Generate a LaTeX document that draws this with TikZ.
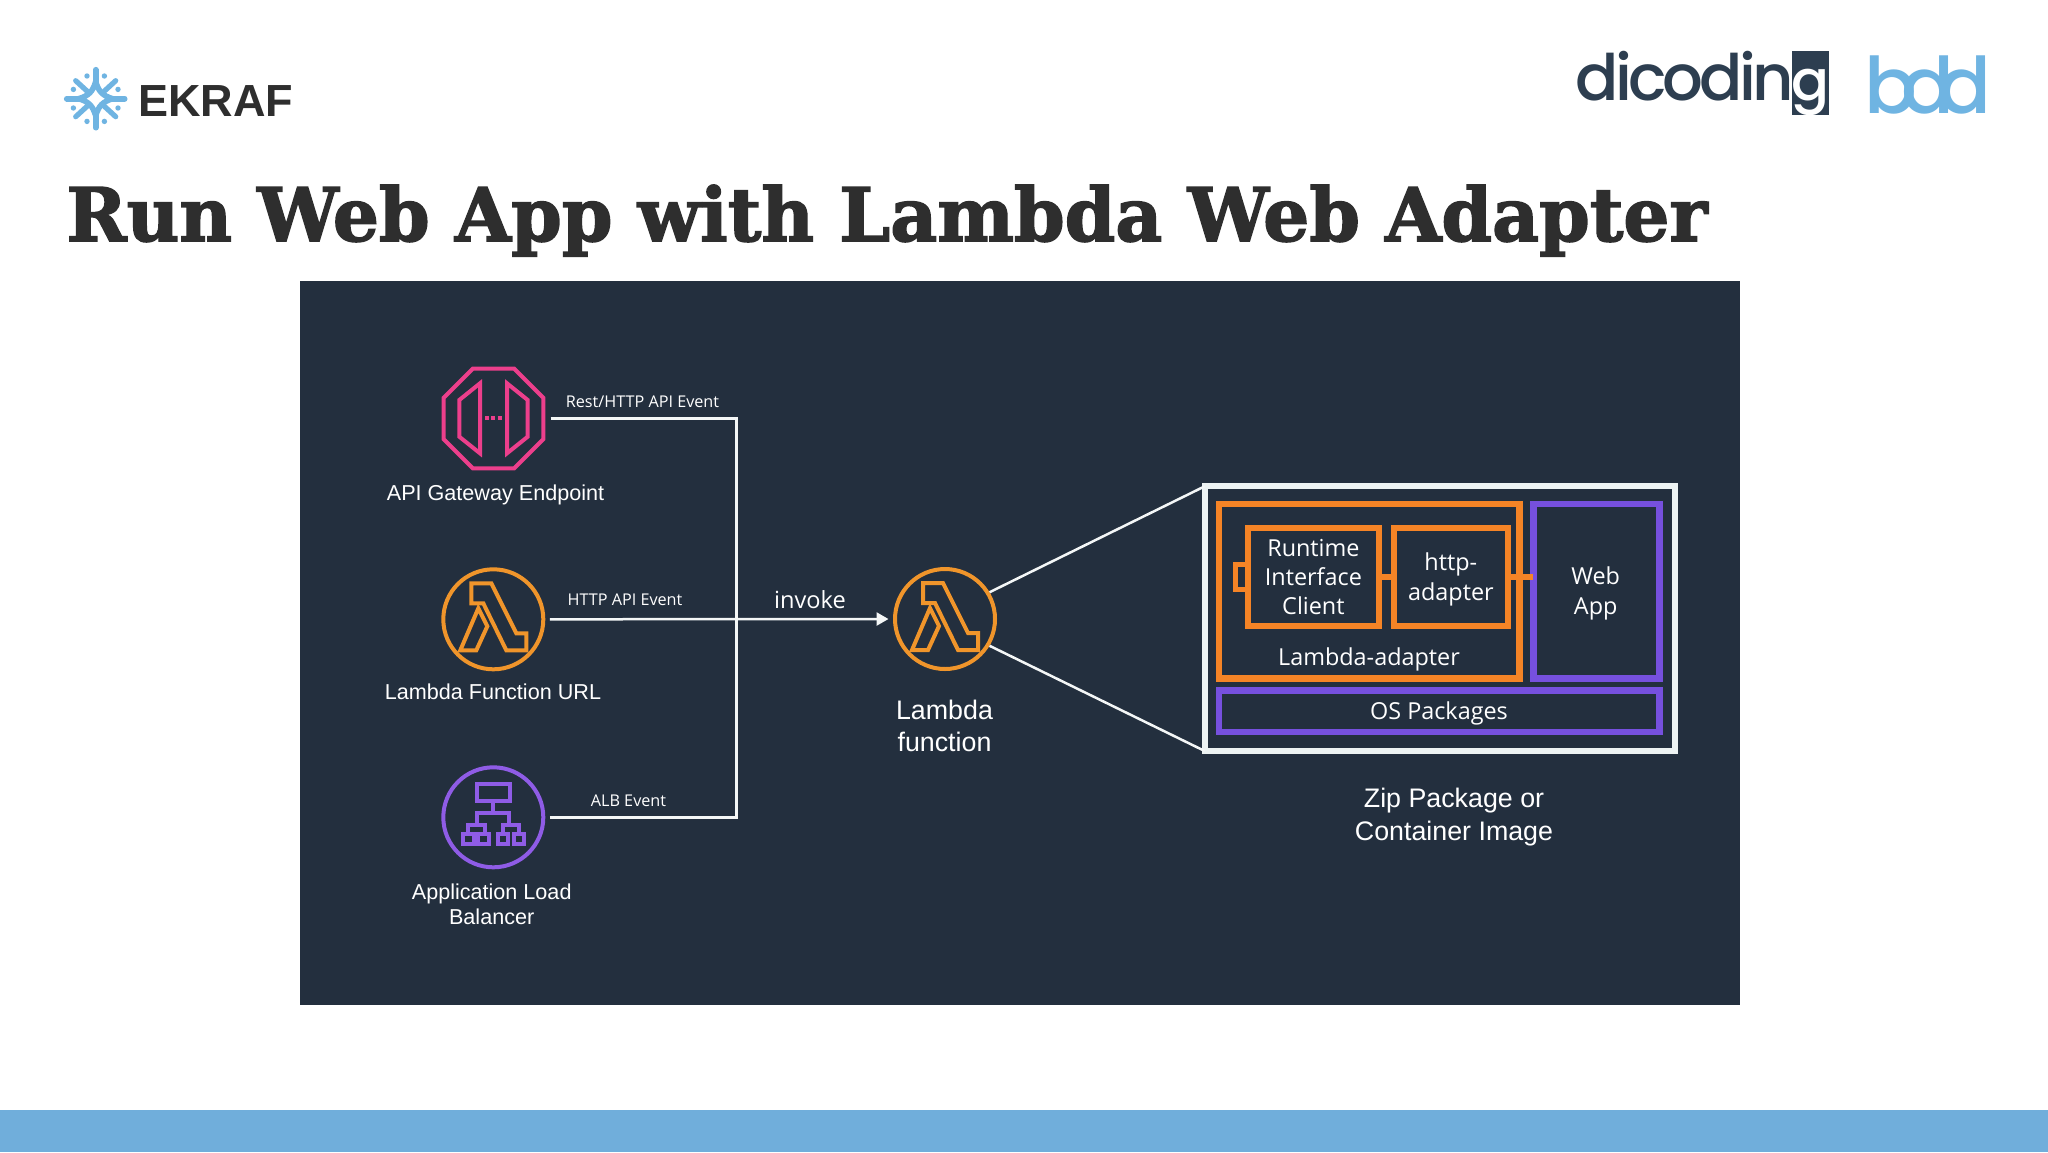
\documentclass[tikz,border=0pt]{standalone}
\usepackage{fontspec}
\usetikzlibrary{shapes.geometric,arrows.meta}
\setmainfont{Liberation Sans}
\newfontfamily\emberfont{Open Sans}
\newfontfamily\titlefont[FakeStretch=0.98,FakeBold=2]{DejaVu Serif Bold}
\newfontfamily\logofont{Poppins Medium}
\newfontfamily\dicofont[LetterSpace=-6]{Poppins Medium}
\newfontfamily\ekraffont{Liberation Sans Bold}
\definecolor{panel}{HTML}{232F3E}
\definecolor{band}{HTML}{70AEDB}
\definecolor{ink}{HTML}{2E2E2E}
\definecolor{logoblue}{HTML}{6FB4E2}
\definecolor{dicod}{HTML}{2D3E50}
\definecolor{pinkc}{HTML}{EC3F8C}
\definecolor{lamc}{HTML}{F0952B}
\definecolor{albc}{HTML}{8F5CE6}
\definecolor{orangec}{HTML}{F58426}
\definecolor{purplec}{HTML}{7650DE}
\definecolor{framec}{HTML}{EDF3F3}
\definecolor{linec}{HTML}{F4F7F7}
\tikzset{
  iconcircle/.style={circle,draw=#1,line width=2pt,minimum size=50pt,inner sep=0pt,outer sep=3.25pt},
  conn/.style={draw=linec,line width=1.25pt},
  armbox/.style={draw=#1,rectangle,inner sep=0pt,outer sep=0pt,line width=3pt},
  lab/.style={text=white,inner sep=0pt,anchor=base,align=center},
  boxlab/.style={text=white,inner sep=0pt,align=center,font=\emberfont\fontsize{11.7}{14.6}\selectfont},
  evlab/.style={lab,font=\emberfont\fontsize{8.1}{9}\selectfont},
  arialA/.style={lab,font=\fontsize{10.8}{12.5}\selectfont},
  arialB/.style={lab,font=\fontsize{13.4}{16.2}\selectfont},
  lamicon/.pic={
    \draw[lamc,line width=2pt,line join=miter]
      (-22,-36)--(-2,-36)--(23,14)--(33,14)--(33,31)--(13,31)--(-10,-16)--(-22,-16)--cycle;
    \draw[lamc,line width=2pt,line join=miter]
      (-15,-11)--(-6,7)--(-17,31)--(-33,31)--cycle;
  },
  albsq/.style={draw=albc,line width=2pt,fill=panel,rectangle,minimum size=5.2pt,inner sep=0pt},
}
\begin{document}
\begin{tikzpicture}[x=0.5pt,y=-0.5pt]
\useasboundingbox (0,0) rectangle (2048,1152);
\fill[white] (0,0) rectangle (2048,1152);
\fill[band] (0,1110) rectangle (2048,1152);
\fill[panel] (300,281) rectangle (1740,1005);

% EKRAF logo
\begin{scope}[shift={(95.7,98.7)}]
  \draw[logoblue,line width=2.8pt,line cap=round,fill=white]
    (0,-17) .. controls (3,-7) and (7,-3) .. (17,0) .. controls (7,3) and (3,7) .. (0,17)
    .. controls (-3,7) and (-7,3) .. (-17,0) .. controls (-7,-3) and (-3,-7) .. (0,-17) -- cycle;
  \draw[logoblue,line width=2.8pt,line cap=round]
    (0,-29)--(0,-16) (0,29)--(0,16) (-29,0)--(-16,0) (29,0)--(16,0);
  \draw[logoblue,line width=2.6pt,line cap=round]
    (-20,-18)--(-8,-7) (20,-18)--(8,-7) (-20,18)--(-8,7) (20,18)--(8,7);
  \foreach \a/\b in {-8.7/-22.7,8.7/-22.7,-22.3/-9.3,22.3/-9.3,-22.3/9.3,22.3/9.3,-8.7/22.7,8.7/22.7}
    \fill[logoblue] (\a,\b) circle (2.7);
\end{scope}
\node[anchor=base west,inner sep=0pt,text=ink,font=\ekraffont\fontsize{22.5}{23}\selectfont] (ekraf) at (138,116) {EKRAF};

% dicoding logo
\fill[dicod] (1791.7,51) rectangle (1829,115.3);
\node[anchor=base west,inner sep=0pt,text=dicod,font=\dicofont\fontsize{32}{32}\selectfont] (dicoding) at (1575,100) {dicodin};
\node[anchor=base,inner sep=0pt,text=white,font=\logofont\fontsize{28}{28}\selectfont] (dicg) at (1810,100) {g};
% bdd logo
\node[anchor=base west,inner sep=0pt,text=logoblue,font=\logofont\fontsize{39}{39}\selectfont] (bdd) at (1864,113.5) {b\kern-8pt d\kern-8pt d};

% title
\node[anchor=base west,inner sep=0pt,text=ink,font=\titlefont\fontsize{37}{37}\selectfont] (title) at (66,241) {Run Web App with Lambda Web Adapter};

% sources
\node[regular polygon,regular polygon sides=8,draw=pinkc,line width=2pt,minimum size=54pt,inner sep=0pt,outer sep=3.55pt] (api) at (493.5,418.5) {};
\draw[pinkc,line width=2pt,line join=miter] (480,383.3)--(459.3,400)--(459.3,436.7)--(480,453.3)--cycle;
\draw[pinkc,line width=2pt,line join=miter] (507,383.3)--(527.7,400)--(527.7,436.7)--(507,453.3)--cycle;
\draw[pinkc,line width=2pt,dash pattern=on 2pt off 1.2pt] (485,418)--(503,418);

\node[iconcircle=lamc] (url) at (493.3,619.3) {};
\pic at (url) {lamicon};

\node[iconcircle=albc] (alb) at (493.3,817.3) {};
\begin{scope}[shift={(493.3,817.3)},albc,line width=2pt]
  \draw (-16.7,-33) rectangle (16.7,-16);
  \draw (0,-16)--(0,-4);
  \draw (-16.7,8)--(-16.7,-4)--(16,-4)--(16,8);
  \draw (-25,15)--(-25,7.7)--(-8.5,7.7)--(-8.5,15);
  \draw (9.5,15)--(9.5,7.7)--(25.7,7.7)--(25.7,15);
\end{scope}
\foreach \n/\xx in {a/468.3,b/483.6,c/503,d/519}
  \node[albsq] (sq\n) at (\xx,839) {};

\node[lab,font=\fontsize{10.8}{12.5}\selectfont] (apil) at (495.5,500) {API Gateway Endpoint};
\node[arialA] (urll) at (493,699.5) {Lambda Function URL};
\node[arialA] (albl) at (491.7,899.3) {Application Load};
\node[arialA] (albl2) at (491.7,924.3) {Balancer};

% lambda
\node[iconcircle=lamc] (fn) at (945,619) {};
\pic at (fn) {lamicon};
\node[arialB] (fnl) at (944.5,719.3) {Lambda};
\node[arialB] (fnl2) at (944.5,751.7) {function};

% bus
\coordinate (bus) at (736.7,619.3);
\draw[conn] (api.east) -| (bus);
\draw[conn] (alb.east) -| (bus);
\draw[conn,-{Triangle[length=6pt,width=6.5pt]}] (url.east) -- (fn.west);
\node[evlab] (e1) at (642.5,407.3) {Rest/HTTP API Event};
\node[evlab] (e2) at (625,605) {HTTP API Event};
\node[evlab] (e3) at (628.5,806.7) {ALB Event};
\node[lab,font=\emberfont\fontsize{11.8}{14}\selectfont] (inv) at (810,608.3) {invoke};

% package
\node[draw=framec,rectangle,line width=3pt,minimum width=235.3pt,minimum height=132.35pt,inner sep=0pt,outer sep=0pt] (pkg) at (1440,618.65) {};
\draw[conn] ([xshift=-1.93pt,yshift=-1.16pt]fn.31) -- (pkg.north west);
\draw[conn] ([xshift=-1.93pt,yshift=1.16pt]fn.-31) -- (pkg.south west);
\node[armbox=orangec,line width=3.25pt,minimum width=150.2pt,minimum height=87.35pt] (adp) at (1369.2,591.35) {};
\node[armbox=orangec,line width=2.5pt,minimum width=6pt,minimum height=12.5pt] (port) at (1241,576.8) {};
\node[armbox=orangec,minimum width=65.65pt,minimum height=49pt,fill=panel] (rt) at (1313.65,577) {};
\node[armbox=orangec,minimum width=57.15pt,minimum height=49pt,fill=panel] (ha) at (1450.85,577) {};
\node[armbox=purplec,line width=3.25pt,minimum width=63.05pt,minimum height=87.35pt] (web) at (1596.35,591.35) {};
\node[armbox=purplec,line width=3.25pt,minimum width=220.2pt,minimum height=20.7pt] (os) at (1439.2,711.3) {};
\node[boxlab] (rtl) at (1313.4,577) {Runtime\\Interface\\Client};
\node[boxlab] (hal) at (1450.85,579.5) {http-\\adapter};
\node[boxlab] (webl) at (1595.7,593.5) {Web\\App};
\node[boxlab] (osl) at (1439,713.5) {OS Packages};
\node[lab,font=\emberfont\fontsize{11.7}{14.6}\selectfont] (adpl) at (1369,665.5) {Lambda-adapter};
\draw[orangec,line width=2.75pt] (rt.east) -- (ha.west);
\draw[orangec,line width=2.75pt] (ha.east) -- (ha.east -| web.west);
\node[arialB] (zip) at (1454,807) {Zip Package or};
\node[arialB] (zip2) at (1454,840) {Container Image};
\end{tikzpicture}
\end{document}
